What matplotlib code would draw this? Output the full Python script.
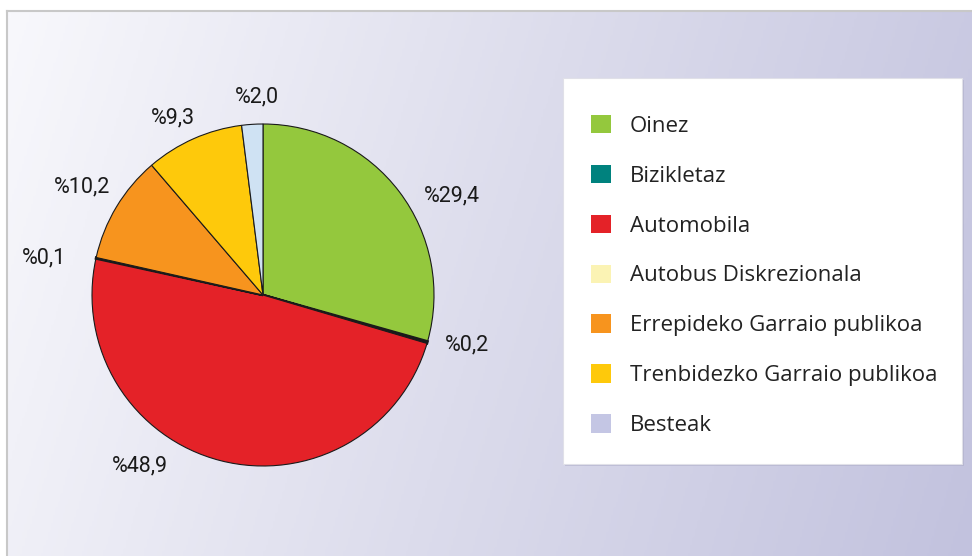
import numpy as np
import matplotlib
matplotlib.use('Agg')
import matplotlib.pyplot as plt
from matplotlib.colors import LinearSegmentedColormap
from matplotlib.patches import Patch, Rectangle

# Data
categories = ['Oinez', 'Bizikletaz', 'Automobila', 'Autobus Diskrezionala',
              'Errepideko Garraio publikoa', 'Trenbidezko Garraio publikoa', 'Besteak']
values = [29.4, 0.2, 48.9, 0.1, 10.2, 9.3, 2.0]
labels = ['%29,4', '%0,2', '%48,9', '%0,1', '%10,2', '%9,3', '%2,0']
slice_colors = ['#94c83d', '#00827e', '#e42228', '#fbf3b4', '#f7941e', '#fec90b', '#cfe2f3']
legend_colors = ['#94c83d', '#00827e', '#e42228', '#fbf3b4', '#f7941e', '#fec90b', '#c4c6e4']

# label placement (distance in radii, angle shift in degrees)
label_dist = [1.25, 1.23, 1.23, 1.30, 1.23, 1.16, 1.16]
label_shift = [-9.5, 2.4, -21.3, 2.8, 0.2, 3.0, -1.8]

fig = plt.figure(figsize=(9.72, 5.56), dpi=100)
fig.patch.set_facecolor('white')

# gradient background panel
bg = fig.add_axes([7 / 972, 0, 1 - 7 / 972, 1 - 11 / 556])
cmap = LinearSegmentedColormap.from_list('bg', ['#f8f8fc', '#dcdcec', '#c2c2de'])
xx = np.linspace(0, 1, 400)
yy = np.linspace(0, 1, 200)
X, Y = np.meshgrid(xx, yy)
grad = 0.85 * X + 0.15 * Y
bg.imshow(grad, cmap=cmap, aspect='auto', extent=[0, 1, 0, 1], origin='upper')
bg.set_xlim(0, 1)
bg.set_ylim(0, 1)
bg.set_xticks([])
bg.set_yticks([])
for side in ['right', 'bottom']:
    bg.spines[side].set_visible(False)
for side in ['top', 'left']:
    bg.spines[side].set_color('#c8c8c8')
    bg.spines[side].set_linewidth(1.5)

# pie
R = 171
lim = 1.4
w = 2 * lim * R
ax = fig.add_axes([(263 - lim * R) / 972, (556 - 295 - lim * R) / 556, w / 972, w / 556])

wedges, _ = ax.pie(values, colors=slice_colors, startangle=90, counterclock=False,
                   wedgeprops=dict(edgecolor='#1a1a1a', linewidth=0.8))
ax.set_xlim(-lim, lim)
ax.set_ylim(-lim, lim)
ax.set_aspect('equal')
ax.axis('off')

# the tiny slices show as thick dark lines
for wdg, v in zip(wedges, values):
    if v < 1:
        wdg.set_linewidth(1.8)

for wdg, lab, d, s in zip(wedges, labels, label_dist, label_shift):
    mid = np.deg2rad((wdg.theta1 + wdg.theta2) / 2 + s)
    ax.text(d * np.cos(mid), d * np.sin(mid), lab, ha='center', va='center',
            fontsize=15.5, family='Roboto', color='#1a1a1a')

# legend box
lx0, lx1, ly0, ly1 = 563, 962, 78, 464
fig.patches.append(Rectangle((lx0 / 972 + 0.002, 1 - ly1 / 556 - 0.004), (lx1 - lx0) / 972,
                             (ly1 - ly0) / 556, transform=fig.transFigure,
                             facecolor='#a8a8c4', edgecolor='none', alpha=0.5, zorder=2))
fig.patches.append(Rectangle((lx0 / 972, 1 - ly1 / 556), (lx1 - lx0) / 972,
                             (ly1 - ly0) / 556, transform=fig.transFigure,
                             facecolor='white', edgecolor='#e0e0e8', linewidth=0.8, zorder=3))

handles = [Patch(facecolor=c, edgecolor='none') for c in legend_colors]
leg = fig.legend(handles, categories, loc='upper left',
                 bbox_to_anchor=(582 / 972, 1 - 106 / 556), frameon=False,
                 prop=dict(family='Open Sans', size=16), labelspacing=1.26,
                 handlelength=0.9, handleheight=0.9, handletextpad=0.85,
                 labelcolor='#222222', borderaxespad=0)
leg.set_zorder(5)

fig.savefig('out.png', dpi=100)
